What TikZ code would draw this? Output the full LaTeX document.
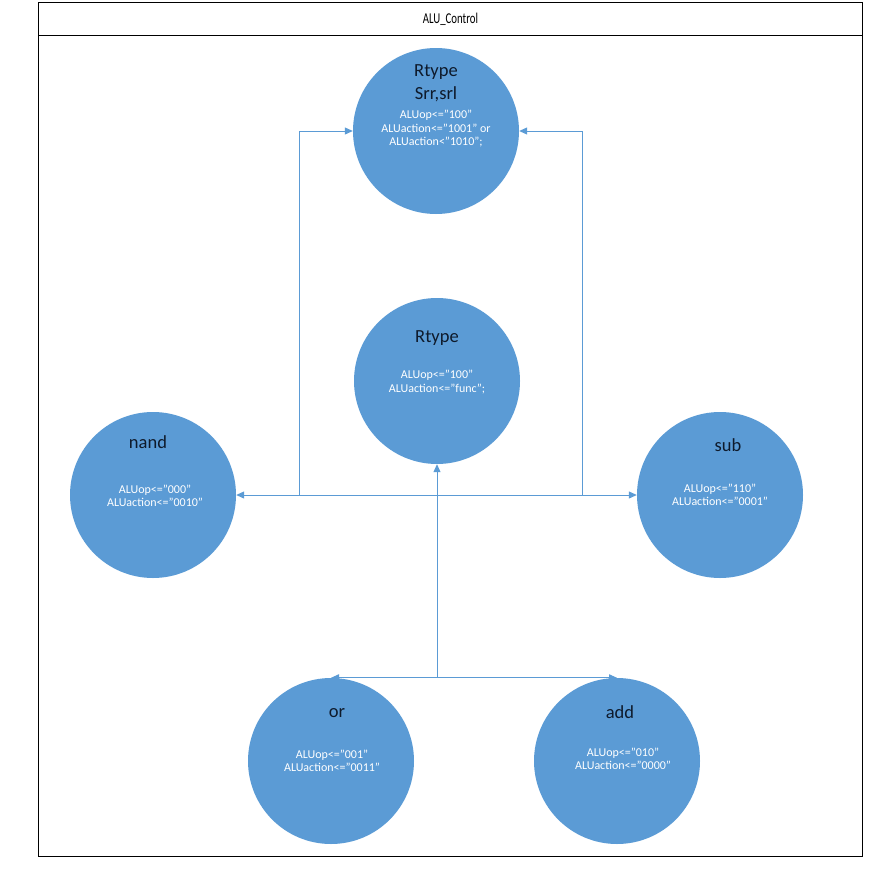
\documentclass[tikz,border=0pt]{standalone}
\usepackage{fontspec}
\setmainfont{Carlito}
\usetikzlibrary{arrows.meta}
\definecolor{stateblue}{HTML}{5B9BD5}
\definecolor{linkblue}{HTML}{5B9BD5}
\definecolor{titleink}{HTML}{0E1A2B}
\begin{document}
\begin{tikzpicture}[x=1pt,y=-1pt,
  state/.style={circle, fill=stateblue, minimum size=166pt, inner sep=0pt},
  statename/.style={text=titleink, font=\fontsize{18.5}{22}\selectfont, inner sep=0pt},
  action/.style={text=white, font=\fontsize{12}{13.5}\selectfont, align=center, inner sep=0pt},
  link/.style={draw=linkblue, line width=1pt, -{Triangle[length=8pt,width=7pt]}},
  panel/.style={draw=black, line width=0.9pt, inner sep=0pt, anchor=north west}]
\useasboundingbox (0,0) rectangle (879,886);

% frame and title band
\node (board) [panel, minimum width=824pt, minimum height=854pt] at (38,2) {};
\node (title) [panel, minimum width=824pt, minimum height=33pt,
  font=\fontsize{15}{17}\selectfont] at (38,2) {\scalebox{0.72}[1]{ALU\_Control}};

% states
\node (top)  [state] at (436,131) {};
\node (mid)  [state] at (437,381) {};
\node (nand) [state] at (153,495) {};
\node (sub)  [state] at (720,495) {};
\node (orc)  [state] at (331,761) {};
\node (addc) [state] at (617,761) {};

% state texts
\node (topname)  [statename] at (436,72) {Rtype};
\node (topname2) [statename] at (436,94) {Srr,srl};
\node (topact)   [action] at (436,129) {ALUop<="100"\\ALUaction<="1001" or\\ALUaction<"1010";};

\node (midname) [statename] at (437,338) {Rtype};
\node (midact)  [action] at (437,382) {ALUop<="100"\\ALUaction<="func";};

\node (nandname) [statename] at (148,442) {nand};
\node (nandact)  [action] at (155,496) {ALUop<="000"\\ALUaction<="0010"};

\node (subname) [statename] at (728,445) {sub};
\node (subact)  [action] at (720,495) {ALUop<="110"\\ALUaction<="0001"};

\node (orname) [statename] at (337,713) {or};
\node (oract)  [action] at (332,761) {ALUop<="001"\\ALUaction<="0011"};

\node (addname) [statename] at (620,712) {add};
\node (addact)  [action] at (623,759) {ALUop<="010"\\ALUaction<="0000"};

% connectors
\coordinate (hub) at (mid.south |- orc.north);
\coordinate (split) at (mid.south |- nand.east);
\coordinate (lbranch) at ([xshift=-138pt]split);
\coordinate (rbranch) at ([xshift=145pt]split);

\draw[link] (hub) -- (mid.south);
\draw[link] (hub) -- (orc.north);
\draw[link] (hub) -- (addc.north);
\draw[link] (split) -- (nand.east);
\draw[link] (split) -- (sub.west);
\draw[link] (lbranch) |- (top.west);
\draw[link] (rbranch) |- (top.east);
\end{tikzpicture}
\end{document}
